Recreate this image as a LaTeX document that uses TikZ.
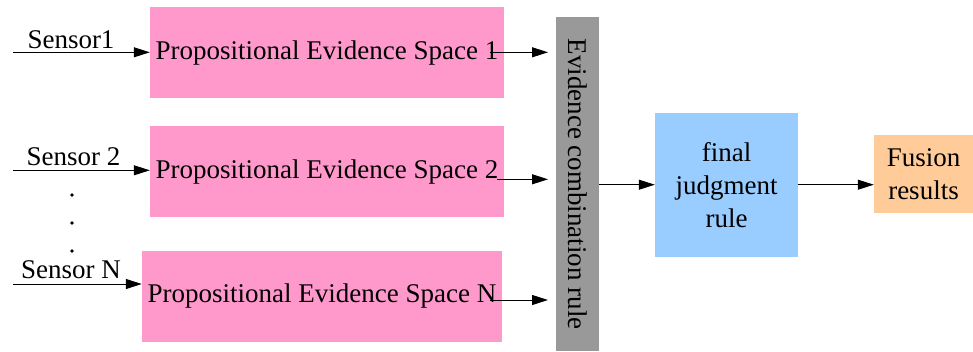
\documentclass[tikz,border=0pt]{standalone}
\usepackage{fontspec}
\setmainfont{Liberation Serif}
\usetikzlibrary{arrows.meta}
\definecolor{pinkbox}{HTML}{FF99CC}
\definecolor{bluebox}{HTML}{99CCFF}
\definecolor{orangebox}{HTML}{FFCC99}
\definecolor{graybar}{HTML}{999999}
\begin{document}
\begin{tikzpicture}[x=1pt,y=-1pt,
  every node/.style={font=\fontsize{27}{33.3}\selectfont, inner sep=0pt},
  box/.style={rectangle, draw=none, align=center},
  arr/.style={-{Triangle[length=16pt,width=10pt]}, line width=1pt, black},
  lbl/.style={anchor=center}]
\useasboundingbox (0,0) rectangle (973,351);
% pink boxes
\node[box, fill=pinkbox, minimum width=354pt, minimum height=91pt] (p1) at (327,52.8) {Propositional Evidence Space 1};
\node[box, fill=pinkbox, minimum width=354pt, minimum height=91pt] (p2) at (327,171.8) {Propositional Evidence Space 2};
\node[box, fill=pinkbox, minimum width=360pt, minimum height=91pt] (pN) at (322,296) {Propositional Evidence Space N};
% gray bar
\node[box, fill=graybar, minimum width=334pt, minimum height=43pt, rotate=-90] (bar) at (577.5,184) {Evidence combination rule};
% blue and orange
\node[box, fill=bluebox, minimum width=143pt, minimum height=144pt] (judge) at (726.5,185) {final\\judgment\\rule};
\node[box, fill=orangebox, minimum width=99pt, minimum height=78pt] (fusion) at (923.5,174) {Fusion\\results};
% sensor labels
\node[lbl] (s1) at (71,40) {Sensor1};
\node[lbl] (s2) at (73.5,157) {Sensor 2};
\node[lbl] (sN) at (71,270) {Sensor N};
% dots
\fill (72,195) circle (1.8pt);
\fill (72,223) circle (1.8pt);
\fill (72,251) circle (1.8pt);
% sensor arrows
\coordinate (i1) at (13,52.3);
\coordinate (i2) at (13,170.3);
\coordinate (iN) at (13,284);
\draw[arr] (i1) -- (i1 -| p1.west);
\draw[arr] (i2) -- (i2 -| p2.west);
\draw[arr] (iN) -- (iN -| pN.west);
% box to bar arrows
\coordinate (o1) at (490,52.3);
\coordinate (o2) at (497,179.3);
\coordinate (oN) at (490,300);
\coordinate (e1) at (548,52.3);
\coordinate (e2) at (548,179.3);
\coordinate (eN) at (548,300);
\draw[arr] (o1) -- (e1);
\draw[arr] (o2) -- (e2);
\draw[arr] (oN) -- (eN);
% bar to judgment
\coordinate (b1) at (599,184.7);
\draw[arr] (b1) -- (b1 -| judge.west);
\coordinate (j1) at (797.5,184.7);
\draw[arr] (j1) -- (j1 -| fusion.west);
\end{tikzpicture}
\end{document}
